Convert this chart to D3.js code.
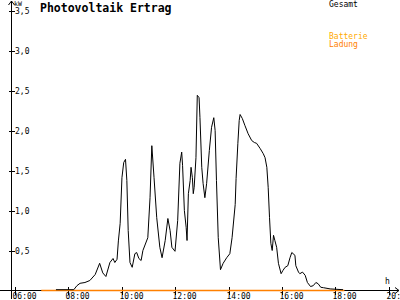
<!DOCTYPE html>
<html>
<head>
<meta charset="utf-8">
<script src="https://cdn.jsdelivr.net/npm/d3@7"></script>
<style>
  html, body { margin: 0; padding: 0; background: #fff; }
  svg { display: block; }
  text { font-family: "DejaVu Sans Mono", monospace; }
</style>
</head>
<body>
<div id="chart"></div>
<script>
// Gesamt (kW) over the day
const gesamtTimes = [
  "07:33","08:13","08:20","08:27","08:38","08:49","09:01","09:11","09:18","09:25",
  "09:34","09:41","09:45","09:50","09:53","09:57","10:01","10:05","10:09","10:12",
  "10:15","10:19","10:24","10:30","10:34","10:39","10:44","10:48","10:59","11:04",
  "11:08","11:13","11:19","11:26","11:31","11:38","11:44","11:49","11:53","12:00",
  "12:06","12:11","12:15","12:17","12:21","12:25","12:27","12:30","12:34","12:36",
  "12:39","12:41","12:43","12:47","12:50","12:54","12:56","13:00","13:03","13:07",
  "13:11","13:17","13:22","13:27","13:30","13:33","13:37","13:42","13:48","13:56",
  "14:03","14:08","14:15","14:17","14:21","14:24","14:26","14:31","14:37","14:44",
  "14:52","14:58","15:03","15:11","15:18","15:22","15:26","15:29","15:32","15:35",
  "15:38","15:41","15:44","15:48","15:52","15:58","16:02","16:07","16:13","16:18",
  "16:22","16:29","16:31","16:37","16:40","16:46","16:52","16:57","17:04","17:10",
  "17:16","17:21","17:27","17:33","17:48","18:17"
];
const gesamtValues = [
  0.01,0.01,0.06,0.09,0.10,0.125,0.20,0.34,0.22,0.175,
  0.35,0.40,0.35,0.39,0.62,0.84,1.41,1.60,1.64,1.375,
  0.75,0.35,0.29,0.46,0.475,0.40,0.375,0.50,0.66,1.16,
  1.81,1.41,0.91,0.54,0.41,0.625,0.90,0.75,0.54,0.49,
  0.875,1.59,1.73,1.56,1.00,0.79,0.625,1.21,1.375,1.54,
  1.41,1.21,1.29,1.66,2.44,2.41,2.16,1.54,1.34,1.16,
  1.34,1.75,2.04,2.16,2.00,1.375,0.66,0.26,0.34,0.41,
  0.46,0.66,1.075,1.40,1.84,2.125,2.20,2.15,2.06,1.96,
  1.875,1.85,1.84,1.775,1.71,1.66,1.54,1.29,0.91,0.59,
  0.50,0.69,0.625,0.54,0.34,0.21,0.25,0.29,0.31,0.41,
  0.475,0.44,0.31,0.23,0.21,0.23,0.19,0.10,0.05,0.06,
  0.10,0.085,0.04,0.035,0.02,0.01
];
// Batterie Ladung (kW)
const ladungTimes = ["07:00","18:20"];
const ladungValues = [0, 0];

const xTickHours = [6, 8, 10, 12, 14, 16, 18, 20];
const xTickLabels = ["06:00","08:00","10:00","12:00","14:00","16:00","18:00","20:00"];
const yTickValues = [0.5, 1.0, 1.5, 2.0, 2.5, 3.0, 3.5];
const yTickLabels = ["0,5","1,0","1,5","2,0","2,5","3,0","3,5"];

const width = 400, height = 300;
const toHour = (t) => { const [h, m] = t.split(":").map(Number); return h + m / 60; };

const svg = d3.select("#chart").append("svg")
  .attr("width", width).attr("height", height)
  .attr("viewBox", `0 0 ${width} ${height}`);

const x = d3.scaleLinear().domain([6, 20]).range([14.5, 389]);
const y = d3.scaleLinear().domain([0, 3.5]).range([290.5, 10.5]);
const axisX = 11.5;

// y axis line with arrow
svg.append("line").attr("x1", axisX).attr("x2", axisX).attr("y1", 1).attr("y2", 299)
  .attr("stroke", "#000").attr("shape-rendering", "crispEdges");
svg.append("path").attr("d", `M${axisX - 3},5L${axisX},1L${axisX + 3},5`)
  .attr("fill", "none").attr("stroke", "#000");

// x axis line with arrow
svg.append("line").attr("x1", 0).attr("x2", 399).attr("y1", y(0)).attr("y2", y(0))
  .attr("stroke", "#000").attr("shape-rendering", "crispEdges");
svg.append("path").attr("d", `M395,${y(0) - 3}L399,${y(0)}L395,${y(0) + 3}`)
  .attr("fill", "none").attr("stroke", "#000");

// y ticks
const yt = svg.append("g");
yTickValues.forEach((v, i) => {
  yt.append("line").attr("x1", axisX - 3).attr("x2", axisX + 3)
    .attr("y1", Math.round(y(v)) + 0.5).attr("y2", Math.round(y(v)) + 0.5)
    .attr("stroke", "#000").attr("shape-rendering", "crispEdges");
  yt.append("text").attr("x", 15).attr("y", y(v) + 3.5)
    .attr("font-size", 8).attr("fill", "#000").text(yTickLabels[i]);
});

// x ticks
const xt = svg.append("g");
xTickHours.forEach((h, i) => {
  const px = Math.round(x(h)) + 0.5;
  xt.append("line").attr("x1", px).attr("x2", px).attr("y1", y(0) - 4).attr("y2", y(0) + 4)
    .attr("stroke", "#000").attr("shape-rendering", "crispEdges");
  xt.append("text").attr("x", px - 3).attr("y", 299)
    .attr("font-size", 8).attr("fill", "#000").text(xTickLabels[i]);
});

// axis units
svg.append("text").attr("x", 14).attr("y", 6).attr("font-size", 6.5).text("kW");
svg.append("text").attr("x", 385).attr("y", 284).attr("font-size", 8).text("h");

// title
svg.append("text").attr("x", 40).attr("y", 12).attr("font-size", 11.5)
  .attr("font-weight", "bold").text("Photovoltaik Ertrag");

// legend
svg.append("text").attr("x", 329).attr("y", 7).attr("font-size", 8).attr("fill", "#000").text("Gesamt");
svg.append("text").attr("x", 329).attr("y", 39).attr("font-size", 8).attr("fill", "#ffaa00").text("Batterie");
svg.append("text").attr("x", 329).attr("y", 47).attr("font-size", 8).attr("fill", "#ff8000").text("Ladung");

const line = d3.line().x(d => x(d[0])).y(d => y(d[1]));

// Ladung line on the baseline
svg.append("path")
  .datum(ladungTimes.map((t, i) => [toHour(t), ladungValues[i]]))
  .attr("d", line).attr("fill", "none").attr("stroke", "#ff8000").attr("stroke-width", 1.5);

// Gesamt line
svg.append("path")
  .datum(gesamtTimes.map((t, i) => [toHour(t), gesamtValues[i]]))
  .attr("d", line).attr("fill", "none").attr("stroke", "#000").attr("stroke-width", 1);
</script>
</body>
</html>
